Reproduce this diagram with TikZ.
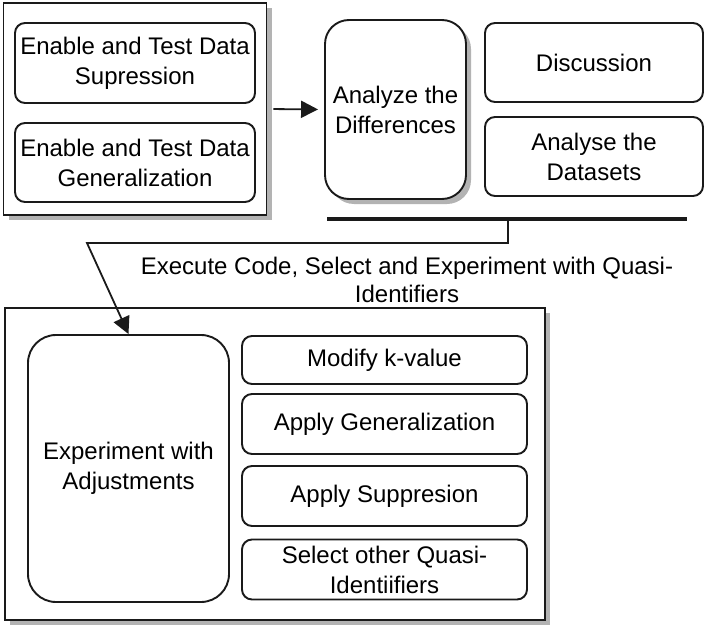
\documentclass[tikz,border=0pt]{standalone}
\usepackage{fontspec}
\setmainfont{Liberation Sans}
\usepackage{xcolor}
\definecolor{flowGray}{HTML}{1A1A1A}
\definecolor{flowShadow}{HTML}{B3B3B3}
\usepackage{tikz}
\usetikzlibrary{arrows.meta,calc,positioning,shadows}

\begin{document}
\begin{tikzpicture}[x=1pt,y=-1pt,font=\fontsize{24}{30}\selectfont]
  \tikzset{
    groupbox/.style={
      draw=flowGray,
      fill=white,
      line width=1.9pt,
      inner sep=0pt,
      drop shadow={shadow xshift=5pt,shadow yshift=-5pt,opacity=1,fill=flowShadow},
    },
    stepbox/.style={
      rounded corners=10pt,
      draw=flowGray,
      fill=white,
      line width=1.9pt,
      inner sep=2pt,
      align=center,
    },
    tallbox/.style={
      stepbox,
      rounded corners=24pt,
    },
    flow/.style={
      draw=flowGray,
      line width=1.8pt,
      -{Triangle[length=17pt,width=17pt]},
    },
  }

  \path[use as bounding box] (0,0) rectangle (709,634);

  % Top left group.
  \node[groupbox,minimum width=263pt,minimum height=212pt] (grpTest) at (135,109) {};
  \node[stepbox,minimum width=240pt,minimum height=80pt] (supp) at (135,63)
    {Enable and Test Data\\Supression};
  \node[stepbox,minimum width=240pt,minimum height=79pt] (gen) at (135,162.5)
    {Enable and Test Data\\Generalization};

  % Analysis.
  \node[tallbox,minimum width=141pt,minimum height=179pt,
    drop shadow={shadow xshift=5pt,shadow yshift=-5pt,opacity=1,fill=flowShadow}]
    (analyze) at (395.5,109.5) {Analyze the\\Differences};
  \node[stepbox,minimum width=218pt,minimum height=79pt] (discuss) at (594,62.5)
    {Discussion};
  \node[stepbox,minimum width=218pt,minimum height=79pt] (datasets) at (594,156.5)
    {Analyse the\\Datasets};

  \draw[flow,shorten <=6pt,shorten >=6pt] (grpTest.east) -- (analyze.west);

  % Bar and the connector down to the experiments.
  \coordinate (barL) at (327,219);
  \coordinate (barR) at (687,219);
  \coordinate (barMid) at (508,219);
  \coordinate (bend) at (87,243);
  \draw[flowGray,line width=4.5pt] (barL) -- (barR);

  \node[align=center,font=\fontsize{24}{28}\selectfont] (execLbl) at (407,280)
    {Execute Code, Select and Experiment with Quasi-\\Identifiers};

  % Bottom group.
  \node[groupbox,minimum width=540pt,minimum height=312pt] (grpExp) at (275,464) {};
  \node[tallbox,rounded corners=28pt,minimum width=201pt,minimum height=267pt]
    (exp) at (128.5,468.5) {Experiment with\\Adjustments};
  \node[stepbox,minimum width=285pt,minimum height=48pt] (kval) at (384.5,360)
    {Modify k-value};
  \node[stepbox,minimum width=285pt,minimum height=60pt] (applyGen) at (384.5,424)
    {Apply Generalization};
  \node[stepbox,minimum width=285pt,minimum height=60pt] (applySupp) at (384.5,496)
    {Apply Suppresion};
  \node[stepbox,minimum width=285pt,minimum height=60pt] (otherQI) at (384.5,569.5)
    {Select other Quasi-\\Identiifiers};

  \draw[flow] (barMid) |- (bend) -- (exp.north);
\end{tikzpicture}
\end{document}
